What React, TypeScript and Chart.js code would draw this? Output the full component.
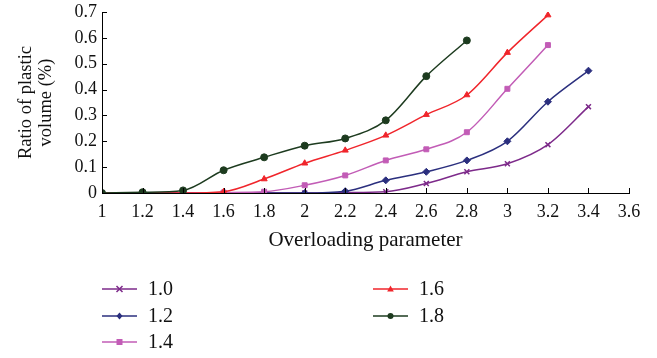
import React, { useEffect, useRef } from "react";
import { Chart, registerables } from "chart.js";

Chart.register(...registerables);

const xValues = [1, 1.2, 1.4, 1.6, 1.8, 2, 2.2, 2.4, 2.6, 2.8, 3, 3.2, 3.4];
const seriesNames = ["1.0", "1.2", "1.4", "1.6", "1.8"];
const s10 = [0, 0, 0, 0, 0, 0, 0.002, 0.005, 0.037, 0.082, 0.113, 0.187, 0.334];
const s12 = [0, 0, 0, 0, 0, 0, 0.007, 0.049, 0.082, 0.126, 0.2, 0.353, 0.473];
const s14 = [0, 0, 0, 0.002, 0.005, 0.03, 0.068, 0.126, 0.169, 0.235, 0.403, 0.572];
const s16 = [0, 0, 0, 0.005, 0.054, 0.115, 0.165, 0.223, 0.303, 0.379, 0.543, 0.688];
const s18 = [0, 0.003, 0.01, 0.088, 0.138, 0.183, 0.211, 0.281, 0.452, 0.59];
const colors = ["#7D2A8A", "#2B2F7E", "#C25CB6", "#F0252B", "#1D3B1F"];
const markers = ["crossRot", "rectRot", "rect", "triangle", "circle"];
const xTitle = "Overloading parameter";
const yTitle = ["Ratio of plastic", "volume (%)"];

const FONT = "'Liberation Serif', 'DejaVu Serif', serif";

function drawMarker(ctx: CanvasRenderingContext2D, style: string, x: number, y: number, r: number, color: string) {
  ctx.save();
  ctx.fillStyle = color;
  ctx.strokeStyle = color;
  ctx.lineWidth = 1.5;
  ctx.beginPath();
  if (style === "circle") {
    ctx.arc(x, y, r, 0, Math.PI * 2);
    ctx.fill();
  } else if (style === "rect") {
    ctx.rect(x - r, y - r, 2 * r, 2 * r);
    ctx.fill();
  } else if (style === "rectRot") {
    ctx.moveTo(x, y - r * 1.2);
    ctx.lineTo(x + r, y);
    ctx.lineTo(x, y + r * 1.2);
    ctx.lineTo(x - r, y);
    ctx.closePath();
    ctx.fill();
  } else if (style === "triangle") {
    ctx.moveTo(x, y - r * 1.2);
    ctx.lineTo(x + r * 1.1, y + r * 0.8);
    ctx.lineTo(x - r * 1.1, y + r * 0.8);
    ctx.closePath();
    ctx.fill();
  } else {
    ctx.moveTo(x - r, y - r);
    ctx.lineTo(x + r, y + r);
    ctx.moveTo(x + r, y - r);
    ctx.lineTo(x - r, y + r);
    ctx.stroke();
  }
  ctx.restore();
}

const innerTicks = {
  id: "innerTicks",
  afterDatasetsDraw(chart: any) {
    const { ctx, chartArea } = chart;
    const xs = chart.scales.x;
    const ys = chart.scales.y;
    ctx.save();
    ctx.strokeStyle = "#000";
    ctx.lineWidth = 1;
    xs.ticks.forEach((t: any) => {
      const px = Math.round(xs.getPixelForValue(t.value)) + 0.5;
      ctx.beginPath();
      ctx.moveTo(px, chartArea.bottom);
      ctx.lineTo(px, chartArea.bottom - 5);
      ctx.stroke();
    });
    ys.ticks.forEach((t: any) => {
      const py = Math.round(ys.getPixelForValue(t.value)) + 0.5;
      ctx.beginPath();
      ctx.moveTo(chartArea.left, py);
      ctx.lineTo(chartArea.left + 5, py);
      ctx.stroke();
    });
    ctx.restore();
  },
};

const customLegend = {
  id: "customLegend",
  afterDraw(chart: any) {
    const { ctx } = chart;
    const positions = [
      [102, 289],
      [102, 316],
      [102, 342],
      [373, 289],
      [373, 316],
    ];
    chart.data.datasets.forEach((ds: any, i: number) => {
      const [x0, y0] = positions[i];
      ctx.save();
      ctx.strokeStyle = ds.borderColor;
      ctx.lineWidth = 1.5;
      ctx.beginPath();
      ctx.moveTo(x0, y0);
      ctx.lineTo(x0 + 35, y0);
      ctx.stroke();
      drawMarker(ctx, ds.pointStyle, x0 + 17.5, y0, 3, ds.borderColor);
      ctx.fillStyle = "#111";
      ctx.font = `20px ${FONT}`;
      ctx.textBaseline = "middle";
      ctx.textAlign = "left";
      ctx.fillText(ds.label, x0 + 46, y0 + 1);
      ctx.restore();
    });
  },
};

export default function App() {
  const ref = useRef<HTMLCanvasElement>(null);
  useEffect(() => {
    const all = [s10, s12, s14, s16, s18];
    const datasets = all.map((vals, i) => ({
      label: seriesNames[i],
      data: vals.map((v, j) => ({ x: xValues[j], y: v })),
      borderColor: colors[i],
      backgroundColor: colors[i],
      pointStyle: markers[i],
      pointRadius: 3.5,
      pointBorderWidth: i === 0 ? 1.5 : 1,
      borderWidth: 1.5,
      cubicInterpolationMode: "monotone",
      order: 5 - i,
    }));
    const chart = new Chart(ref.current!, {
      type: "line",
      data: { datasets: datasets as any },
      options: {
        responsive: false,
        animation: false,
        layout: { padding: { top: 12, right: 28, bottom: 105, left: 0 } },
        plugins: { legend: { display: false }, tooltip: { enabled: false } },
        scales: {
          x: {
            type: "linear",
            min: 1,
            max: 3.6,
            afterFit: (s: any) => {
              s.height = 60;
              s.paddingLeft = 0;
              s.paddingRight = 0;
            },
            grid: { display: false, drawTicks: false },
            border: { display: true, color: "#000", width: 1 },
            ticks: {
              stepSize: 0.2,
              padding: 8,
              color: "#111",
              font: { family: FONT, size: 18 },
              callback: (v: any) => String(Number(Number(v).toFixed(1))),
              maxRotation: 0,
            },
            title: {
              display: true,
              text: xTitle,
              color: "#111",
              font: { family: FONT, size: 21 },
              padding: { top: 0, bottom: 0 },
            },
          },
          y: {
            type: "linear",
            min: 0,
            max: 0.7,
            afterFit: (s: any) => {
              s.width = 102;
              s.paddingTop = 0;
              s.paddingBottom = 0;
            },
            grid: { display: false, drawTicks: false },
            border: { display: true, color: "#000", width: 1 },
            ticks: {
              stepSize: 0.1,
              padding: 5,
              color: "#111",
              font: { family: FONT, size: 18 },
              callback: (v: any) => String(Number(Number(v).toFixed(1))),
            },
            title: {
              display: true,
              text: yTitle,
              color: "#111",
              font: { family: FONT, size: 18.5, lineHeight: 20 / 18.5 },
              padding: { top: 16, bottom: 0 },
            },
          },
        },
      },
      plugins: [innerTicks, customLegend],
    });
    return () => chart.destroy();
  }, []);
  return (
    <div style={{ position: "absolute", left: 0, top: 0, width: 657, height: 358, background: "#fff" }}>
      <canvas ref={ref} width={657} height={358} />
    </div>
  );
}
